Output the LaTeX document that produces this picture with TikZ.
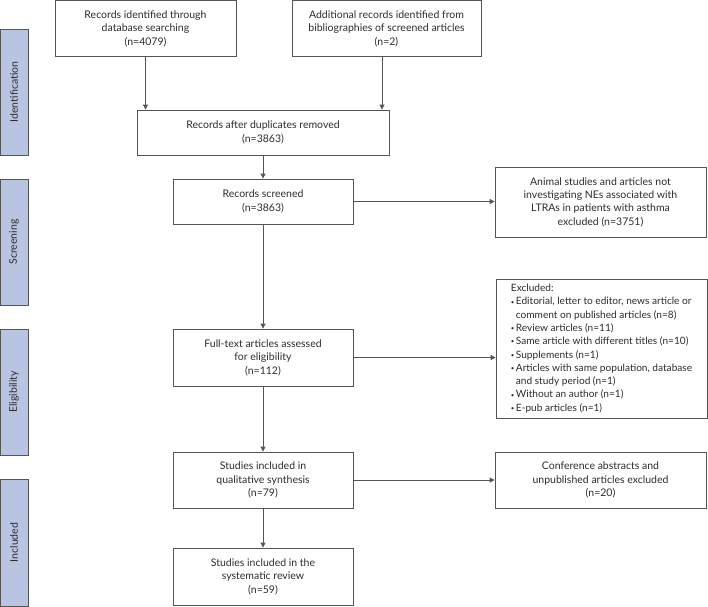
\documentclass[tikz,border=0pt]{standalone}
\usepackage{fontspec}
\setmainfont{Lato}
\usetikzlibrary{arrows.meta}
\definecolor{barfill}{RGB}{184,196,226}
\definecolor{ln}{RGB}{85,85,85}
\definecolor{tx}{RGB}{45,45,45}
\newcommand\bul{\raisebox{0.15ex}{\scalebox{0.6}{\textbullet}}\hspace{1.5pt}}
\tikzset{
  box/.style={draw=ln, line width=0.8pt, fill=white, text=tx, align=center,
    font=\fontsize{10.5}{13.4}\selectfont, inner sep=0pt},
  bar/.style={draw=ln, line width=0.8pt, fill=barfill, text=tx, rotate=90,
    font=\fontsize{10.5}{13}\selectfont, inner sep=0pt, minimum height=28pt},
  arr/.style={draw=ln, line width=0.8pt, -{Triangle[length=5pt,width=5pt]}}
}
\begin{document}
\begin{tikzpicture}[x=1pt,y=-1pt]
\useasboundingbox (0,0) rectangle (708,606);
% side bars
\node[bar, minimum width=126pt] (b1) at (14,92) {Identification};
\node[bar, minimum width=126pt] (b2) at (14,242) {Screening};
\node[bar, minimum width=126pt] (b3) at (14,392) {Eligibility};
\node[bar, minimum width=127pt] (b4) at (14,542.5) {Included};
% boxes
\node[box, minimum width=181pt, minimum height=56pt] (r1) at (145.5,28.8) {Records identified through\\database searching\\(n=4079)};
\node[box, minimum width=189pt, minimum height=56pt] (r2) at (386.5,28.8) {Additional records identified from\\bibliographies of screened articles\\(n=2)};
\node[box, minimum width=252pt, minimum height=45pt] (r3) at (263,132.5) {Records after duplicates removed\\(n=3863)};
\node[box, minimum width=180pt, minimum height=45pt] (r4) at (263,201.5) {Records screened\\(n=3863)};
\node[box, minimum width=211pt, minimum height=70pt] (r5) at (600.5,202) {Animal studies and articles not\\investigating NEs associated with\\LTRAs in patients with asthma\\excluded (n=3751)};
\node[box, minimum width=180pt, minimum height=57pt] (r6) at (263,357.5) {Full-text articles assessed\\for eligibility\\(n=112)};
\node[box, minimum width=211pt, minimum height=139pt, align=left,
  font=\fontsize{10.1}{13.3}\selectfont] (r7) at (601.5,348.5) {Excluded:\\
\bul Editorial, letter to editor, news article or\\
\hphantom{\bul}comment on published articles (n=8)\\
\bul Review articles (n=11)\\
\bul Same article with different titles (n=10)\\
\bul Supplements (n=1)\\
\bul Articles with same population, database\\
\hphantom{\bul}and study period (n=1)\\
\bul Without an author (n=1)\\
\bul E-pub articles (n=1)};
\node[box, minimum width=180pt, minimum height=56pt] (r8) at (263,480) {Studies included in\\qualitative synthesis\\(n=79)};
\node[box, minimum width=211pt, minimum height=56pt] (r9) at (600.5,480) {Conference abstracts and\\unpublished articles excluded\\(n=20)};
\node[box, minimum width=180pt, minimum height=57pt] (r10) at (263,576.5) {Studies included in the\\systematic review\\(n=59)};
% connectors
\draw[arr] (r1.south) -- (r1.south |- r3.north);
\draw[arr] ([xshift=-4.5pt]r2.south) -- ([xshift=-4.5pt]r2.south |- r3.north);
\draw[arr] (r3.south) -- (r4.north);
\draw[arr] (r4.east) -- (r4.east -| r5.west);
\draw[arr] (r4.south) -- (r6.north);
\draw[arr] (r6.east) -- (r6.east -| r7.west);
\draw[arr] (r6.south) -- (r8.north);
\draw[arr] (r8.east) -- (r9.west);
\draw[arr] (r8.south) -- (r10.north);
\end{tikzpicture}
\end{document}
